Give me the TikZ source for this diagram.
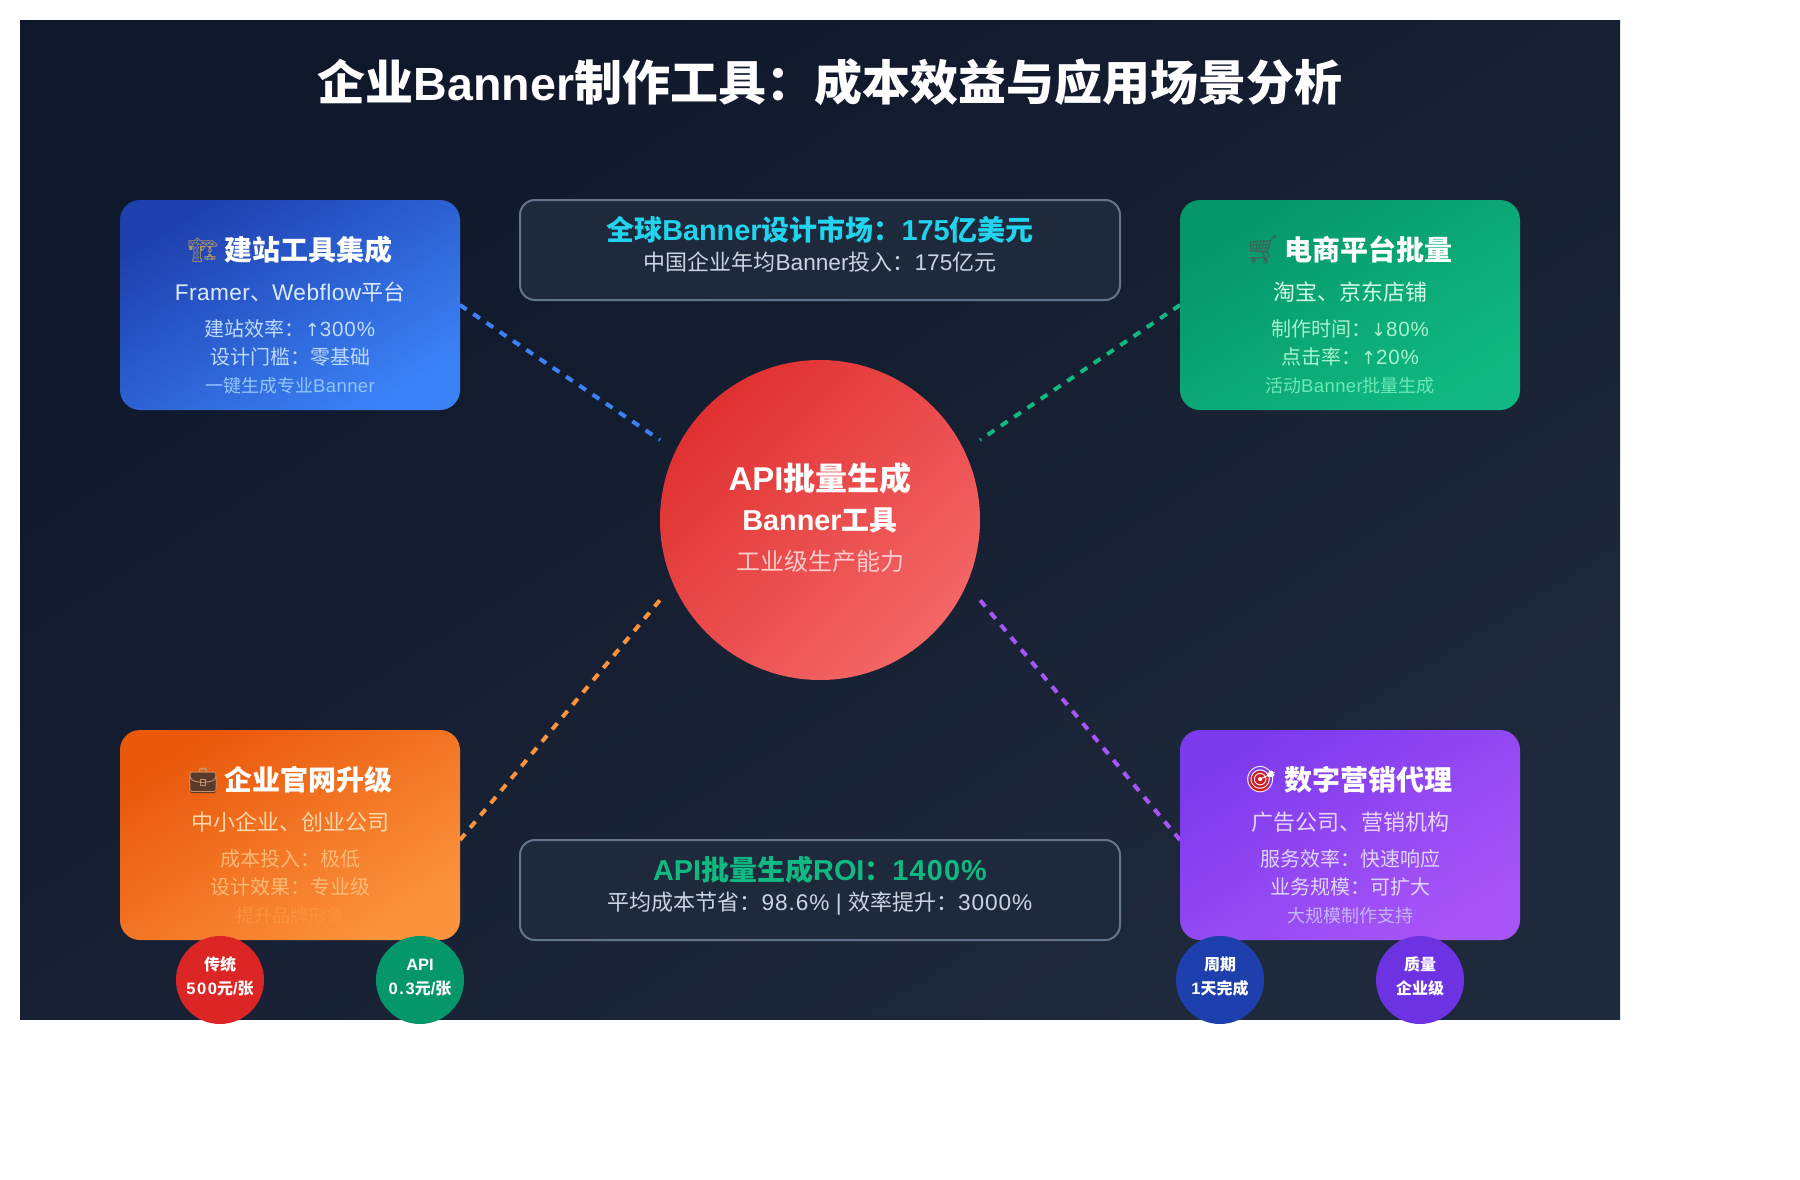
\documentclass[tikz,border=0pt]{standalone}
\usepackage{fontspec}
\setmainfont{Noto Sans CJK SC}
\newfontfamily\latf{Liberation Sans}[Scale=1.03]
\newfontfamily\titlat{Liberation Sans}[Scale=0.97]
\newfontfamily\latg{Liberation Sans}[Scale=1.03,LetterSpace=2]
\newfontfamily\numf{Liberation Sans}[Scale=1.03,LetterSpace=4]
\newfontfamily\numb{Liberation Sans}[Scale=1.03,LetterSpace=10]
\newfontfamily\arrf{DejaVu Sans}[Scale=0.9]
\newfontfamily\emof{Noto Emoji}
\newcommand{\la}[1]{{\latf #1}}
\newcommand{\lsp}[1]{{\latg #1}}
\newcommand{\nmx}[1]{{\numf #1}}
\newcommand{\nbx}[1]{{\numb #1}}
\newcommand{\arw}[1]{{\arrf #1}}
\definecolor{bgA}{HTML}{0F172A}\definecolor{bgB}{HTML}{1E293B}
\definecolor{blA}{HTML}{1E40AF}\definecolor{blB}{HTML}{3B82F6}
\definecolor{grA}{HTML}{059669}\definecolor{grB}{HTML}{10B981}
\definecolor{orA}{HTML}{EA580C}\definecolor{orB}{HTML}{FB923C}
\definecolor{puA}{HTML}{7C3AED}\definecolor{puB}{HTML}{A855F7}
\definecolor{reA}{HTML}{DC2626}\definecolor{reB}{HTML}{F87171}
\definecolor{puC}{HTML}{6D32E2}
\tikzset{
  txt/.style={inner sep=0pt,outer sep=0pt,anchor=center,font=\fontsize{#1}{#1}\selectfont,text height=#1*0.88pt,text depth=#1*0.12pt},
  tb/.style={txt=#1,font=\fontsize{#1}{#1}\selectfont\bfseries},
  emo/.style={inner sep=0pt,outer sep=0pt,anchor=center,font=\fontsize{#1}{#1}\selectfont\emof},
  card/.style 2 args={rectangle,rounded corners=20pt,minimum width=340pt,minimum height=210pt,inner sep=0pt,outer sep=0pt,shading=axis,bottom color=#1,top color=#2,shading angle=-148.3},
  banner/.style={rectangle,rounded corners=15pt,minimum width=600pt,minimum height=100pt,inner sep=0pt,outer sep=0pt,fill=bgB,draw={rgb,255:red,100;green,116;blue,139},line width=2pt},
  badge/.style={circle,minimum size=88pt,inner sep=0pt,outer sep=0pt,fill=#1},
  link/.style={draw=#1,line width=4pt,dash pattern=on 8pt off 8pt},
}
\begin{document}
\begin{tikzpicture}[x=1pt,y=-1pt]
\useasboundingbox (0,0) rectangle (1800,1180);
\fill[white] (0,0) rectangle (1800,1180);
\shade[bottom color=bgA,top color=bgB,shading angle=-148] (20,20.6) rectangle (1620,1019.4);

\coordinate (c1) at (660,440);
\coordinate (c2) at (980,440);
\coordinate (c3) at (660,600);
\coordinate (c4) at (980,600);
\coordinate (s1) at (460,305);
\coordinate (s2) at (1180,305);
\coordinate (s3) at (460,840);
\coordinate (s4) at (1180,840);
\draw[link=blB] (s1) -- (c1);
\draw[link=grB] (s2) -- (c2);
\draw[link=orB] (s3) -- (c3);
\draw[link=puB] (s4) -- (c4);

\node[card={blA}{blB}] (boxA) at (290,305) {};
\node[card={grA}{grB}] (boxB) at (1350,305) {};
\node[card={orA}{orB}] (boxC) at (290,835) {};
\node[card={puA}{puB}] (boxD) at (1350,835) {};

\node[circle,minimum size=320pt,inner sep=0pt,outer sep=0pt,shading=axis,bottom color=reA!86!reB,top color=reA!14!reB,shading angle=-135] (hub) at (820,520) {};

\node[banner] (topban) at (820,250) {};
\node[banner] (botban) at (820,890) {};

\node[badge=reA] (b1) at (220,980) {};
\node[badge=grA] (b2) at (420,980) {};
\node[badge=blA] (b3) at (1220,980) {};
\node[badge=puC] (b4) at (1420,980) {};

% title
\node[tb=48,text=white] (title) at (830,82) {企业{\titlat Banner}制作工具：成本效益与应用场景分析};

% hub text
\node[tb=32,text=white] (h1) at (820,478) {\la{API}批量生成};
\node[tb=28,text=white] (h2) at (820,520) {\la{Banner}工具};
\node[txt=24,text={rgb,255:red,254;green,202;blue,202}] (h3) at (820,561) {工业级生产能力};

% banners
\node[tb=28,text={rgb,255:red,34;green,211;blue,238}] (ta) at (820,230) {全球\la{Banner}设计市场：\la{175}亿美元};
\node[txt=22,text={rgb,255:red,203;green,213;blue,225}] (tb) at (820,262) {中国企业年均\la{Banner}投入：\la{175}亿元};
\node[tb=28,text=grB] (ba) at (820,870) {\la{API}批量生成\la{ROI}：\nmx{1400\%}};
\node[txt=22,text={rgb,255:red,203;green,213;blue,225}] (bb) at (820,902) {平均成本节省：\nmx{98.6\%}\la{ | }效率提升：\nmx{3000\%}};

% card A
\node[emo=24,text={rgb,255:red,176;green,150;blue,100}] (eA) at (203,250) {🏗};
\node[tb=28,text=white] (tA) at (308,250) {建站工具集成};
\node[txt=22,text={rgb,255:red,219;green,234;blue,254}] (sA) at (290,292) {\lsp{Framer}、\lsp{Webflow}平台};
\node[txt=20,text={rgb,255:red,191;green,219;blue,254}] (mA1) at (290,329) {建站效率：\arw{↑}\nmx{300\%}};
\node[txt=20,text={rgb,255:red,191;green,219;blue,254}] (mA2) at (290,357) {设计门槛：零基础};
\node[txt=18,text={rgb,255:red,147;green,197;blue,253}] (lA) at (290,386) {一键生成专业\lsp{Banner}};

% card B
\node[emo=28,text={rgb,255:red,70;green,95;blue,85}] (eB) at (1263,250) {🛒};
\node[tb=28,text=white] (tB) at (1368,250) {电商平台批量};
\node[txt=22,text={rgb,255:red,209;green,250;blue,229}] (sB) at (1350,292) {淘宝、京东店铺};
\node[txt=20,text={rgb,255:red,167;green,243;blue,208}] (mB1) at (1350,329) {制作时间：\arw{↓}\nmx{80\%}};
\node[txt=20,text={rgb,255:red,167;green,243;blue,208}] (mB2) at (1350,357) {点击率：\arw{↑}\nmx{20\%}};
\node[txt=18,text={rgb,255:red,110;green,231;blue,183}] (lB) at (1350,386) {活动\lsp{Banner}批量生成};

% card C
\fill[rounded corners=2pt,fill={rgb,255:red,90;green,58;blue,42}] (190,772) rectangle (216,793);
\node[emo=24,text={rgb,255:red,200;green,150;blue,110}] (eC) at (203,780) {💼};
\node[tb=28,text=white] (tC) at (308,780) {企业官网升级};
\node[txt=22,text={rgb,255:red,254;green,215;blue,170}] (sC) at (290,822) {中小企业、创业公司};
\node[txt=20,text={rgb,255:red,253;green,186;blue,116}] (mC1) at (290,859) {成本投入：极低};
\node[txt=20,text={rgb,255:red,253;green,186;blue,116}] (mC2) at (290,887) {设计效果：专业级};
\node[txt=18,text=orB] (lC) at (290,916) {提升品牌形象};

% card D
\fill[fill={rgb,255:red,205;green,30;blue,35}] (1259.5,781.5) circle (10.5);
\node[emo=26,text=white] (eD) at (1261,780) {🎯};
\node[tb=28,text=white] (tD) at (1368,780) {数字营销代理};
\node[txt=22,text={rgb,255:red,233;green,213;blue,255}] (sD) at (1350,822) {广告公司、营销机构};
\node[txt=20,text={rgb,255:red,221;green,214;blue,254}] (mD1) at (1350,859) {服务效率：快速响应};
\node[txt=20,text={rgb,255:red,221;green,214;blue,254}] (mD2) at (1350,887) {业务规模：可扩大};
\node[txt=18,text={rgb,255:red,196;green,181;blue,253}] (lD) at (1350,916) {大规模制作支持};

% badges
\node[tb=16,text=white] (b1a) at (220,964) {传统};
\node[tb=16,text=white] (b1b) at (220,988) {\nbx{500}元\la{/}张};
\node[tb=16,text=white] (b2a) at (420,964) {\la{API}};
\node[tb=16,text=white] (b2b) at (420,988) {\nbx{0.3}元\la{/}张};
\node[tb=16,text=white] (b3a) at (1220,964) {周期};
\node[tb=16,text=white] (b3b) at (1220,988) {\la{1}天完成};
\node[tb=16,text=white] (b4a) at (1420,964) {质量};
\node[tb=16,text=white] (b4b) at (1420,988) {企业级};
\end{tikzpicture}
\end{document}
